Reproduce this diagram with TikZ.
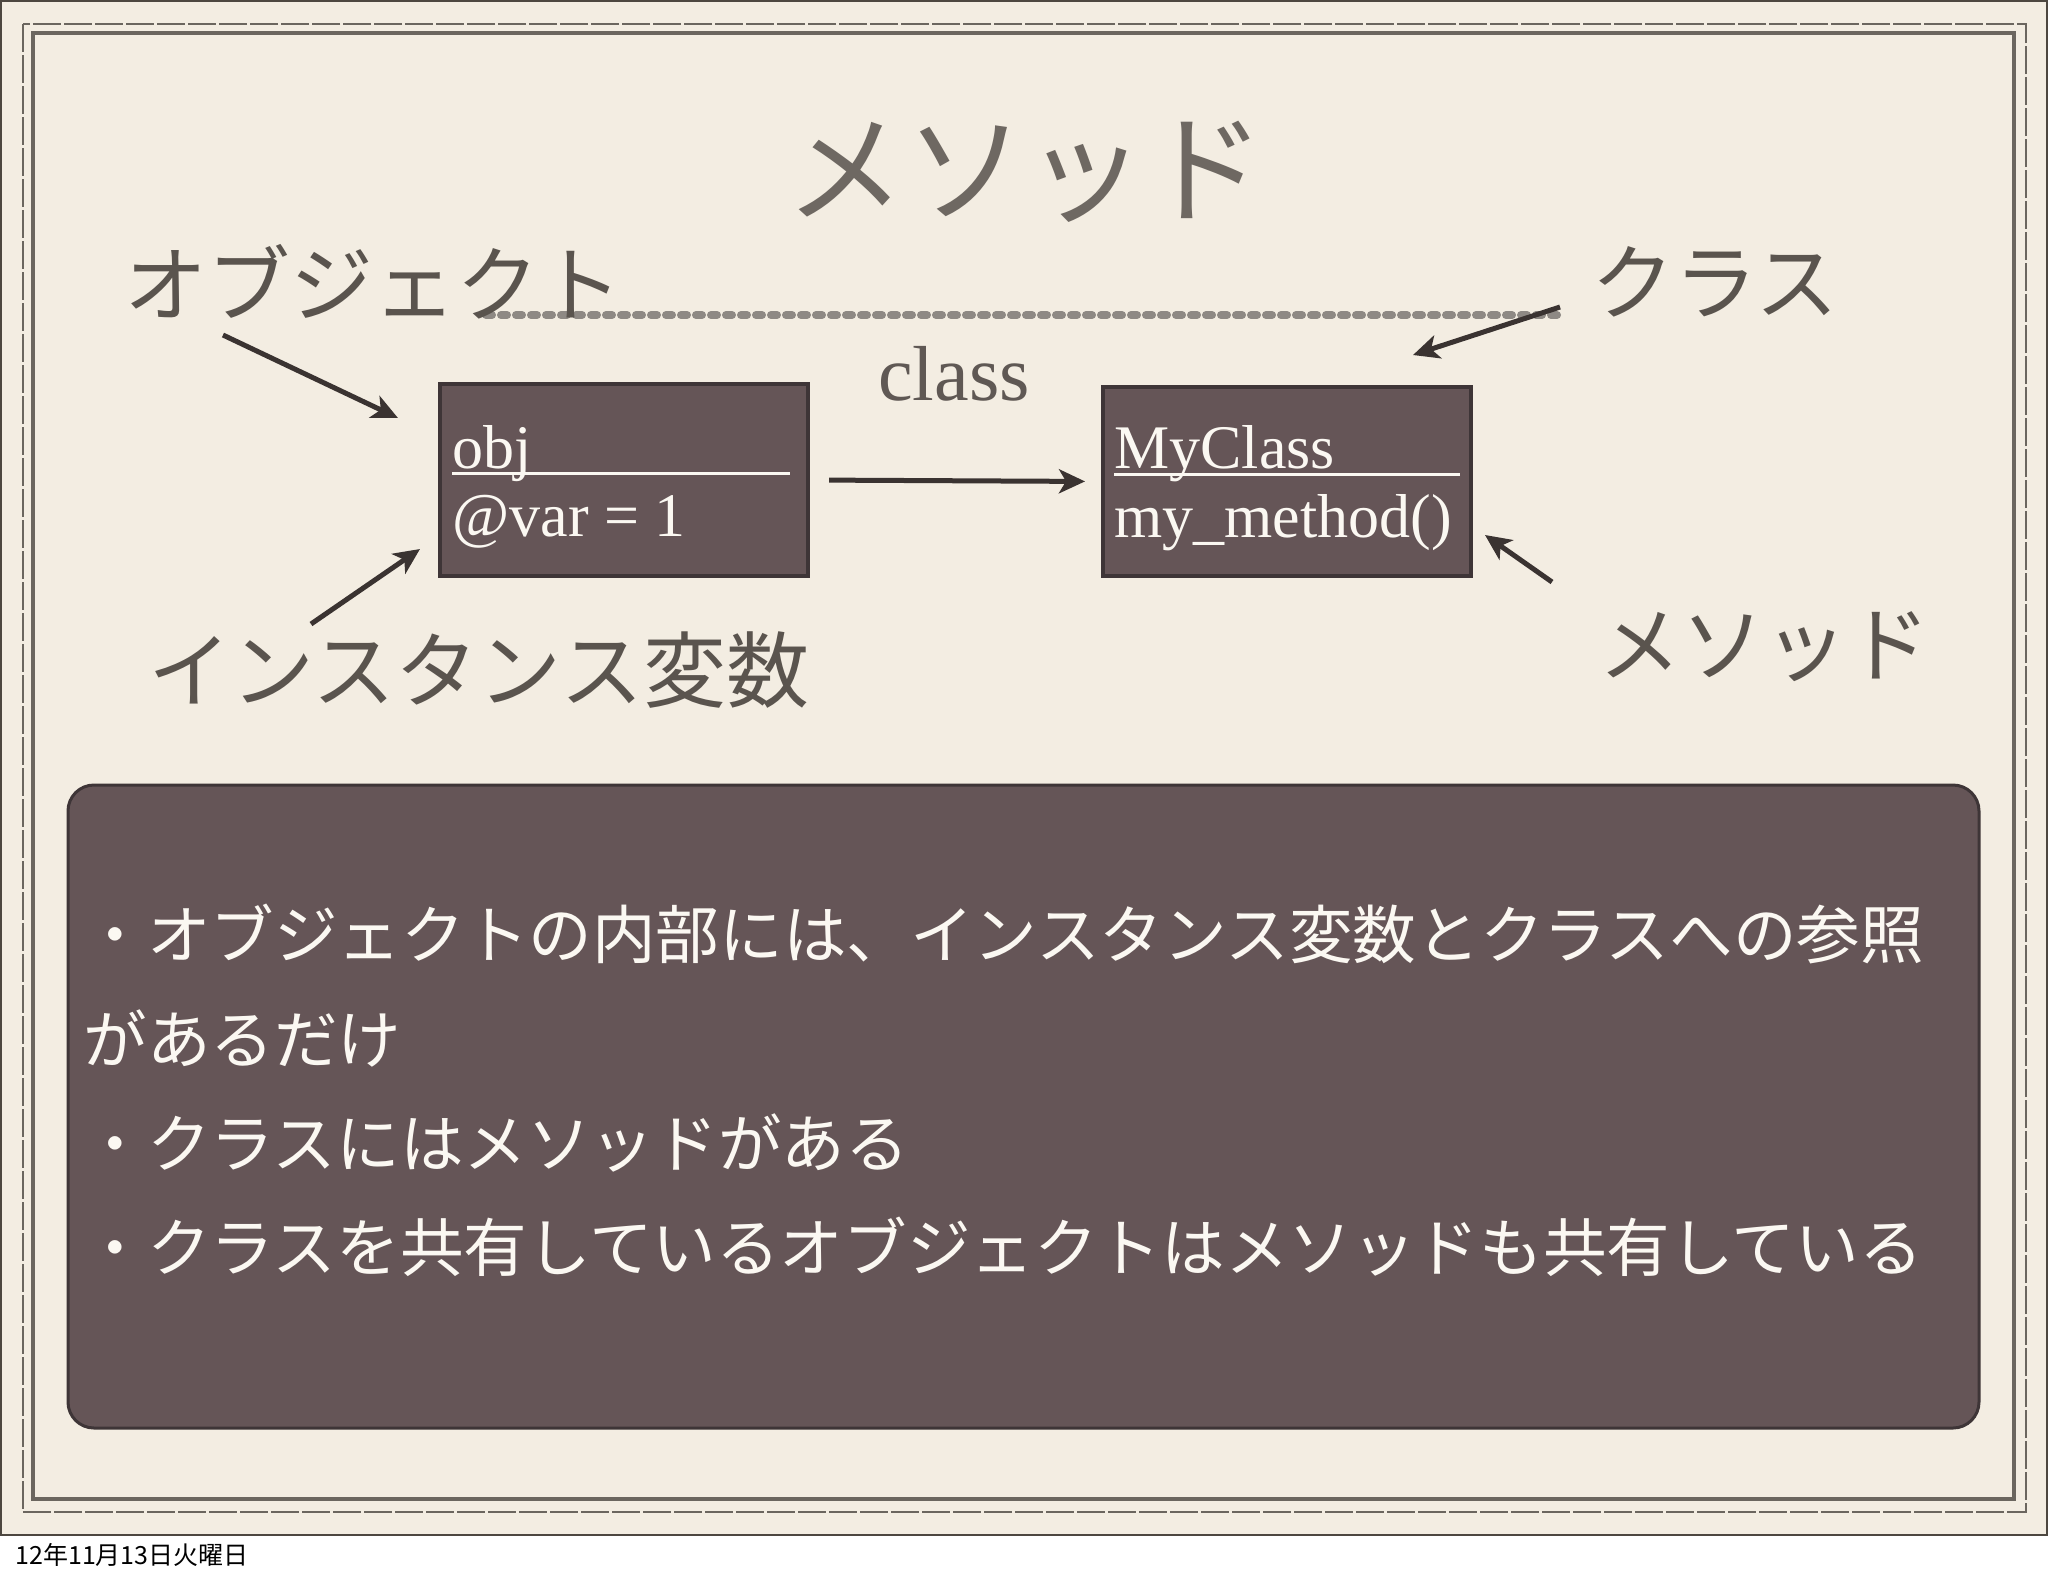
\documentclass[tikz,border=0pt]{standalone}
\usepackage{fontspec}
\setmainfont{Liberation Serif}
\newfontfamily\jp{Noto Sans CJK JP}
\usetikzlibrary{arrows.meta}
\definecolor{paper}{HTML}{F3EDE2}
\definecolor{slideedge}{HTML}{4D4740}
\definecolor{framegray}{HTML}{6B665F}
\definecolor{boxfill}{HTML}{655557}
\definecolor{boxedge}{HTML}{3E3537}
\definecolor{ink}{HTML}{3A3331}
\definecolor{titlegray}{HTML}{6E6862}
\definecolor{labelgray}{HTML}{5A544E}
\definecolor{chaingray}{HTML}{8E8984}
\definecolor{cream}{HTML}{FBF8F2}
\begin{document}
\begin{tikzpicture}[x=0.5pt,y=-0.5pt,
  arr/.style={draw=ink, line width=2.5pt, -{Stealth[length=13pt,width=12pt,inset=3.5pt]}},
  umlbox/.style={draw=boxedge, line width=2pt, fill=boxfill, inner sep=0pt, minimum width=184pt},
  boxtext/.style={text=cream, inner sep=0pt, anchor=base west, font=\fontsize{31pt}{36pt}\selectfont},
  label/.style={text=labelgray, inner sep=0pt, font=\jp\fontsize{41.5pt}{48pt}\selectfont},
  bullet/.style={text=cream, inner sep=0pt, anchor=west, font=\jp\fontsize{31.8pt}{38pt}\selectfont},
  uline/.style={draw=cream, line width=1.5pt}
]
\useasboundingbox (0,0) rectangle (2048,1576);
\fill[white] (0,0) rectangle (2048,1576);
% slide
\draw[fill=paper, draw=slideedge, line width=1pt] (1,1) rectangle (2047,1535);
% double frame
\draw[framegray, line width=1.2pt, dash pattern=on 14pt off 1.5pt] (23,24) rectangle (2026,1512);
\draw[framegray, line width=2pt] (33,33) rectangle (2014,1499);

% title
\node[text=titlegray, inner sep=0pt, font=\jp\fontsize{60pt}{70pt}\selectfont] (title) at (1025,172) {メソッド};

% chain line
\draw[chaingray, line width=4pt, line cap=round, dash pattern=on 3pt off 4.5pt] (486,315) -- (1561,315);

% labels
\node[label, anchor=west] (lobj) at (124,282) {オブジェクト};
\node[label, anchor=west] (lcls) at (1591,282) {クラス};
\node[label, anchor=west] (livar) at (148,670) {インスタンス変数};
\node[label, anchor=west] (lmeth) at (1598,647) {メソッド};

% class label
\node[text=ink!80!paper, inner sep=0pt, anchor=base, font=\fontsize{39pt}{44pt}\selectfont] (classlbl) at (954,400) {class};

% boxes
\node[umlbox, minimum height=96pt] (obj) at (624,480) {};
\node[umlbox, minimum height=94.5pt] (cls) at (1287,481.5) {};

\node[boxtext] (objname) at (452,468) {obj};
\draw[uline] (452,473) -- (790,473);
\node[boxtext] (objvar) at (452,536) {@var = 1};

\node[boxtext] (clsname) at (1114,468) {MyClass};
\draw[uline] (1114,474) -- (1460,474);
\node[boxtext] (clsmeth) at (1114,537) {my\_method()};

% arrows
\coordinate (a1s) at (223,335);
\coordinate (a1e) at (398,418);
\coordinate (a2s) at (311,624);
\coordinate (a2e) at (420,549);
\coordinate (a3s) at (1560,307);
\coordinate (a3e) at (1413,355);
\coordinate (a4s) at (1552,582);
\coordinate (a4e) at (1485,535);
\draw[arr] (a1s) -- (a1e);
\draw[arr] (a2s) -- (a2e);
\draw[arr] (a3s) -- (a3e);
\draw[arr] (a4s) -- (a4e);
\draw[arr, shorten <=9.5pt, shorten >=8pt] (obj.east) -- (cls.west);

% panel
\node[draw=boxedge, line width=1.5pt, fill=boxfill, rounded corners=13pt,
      minimum width=955.5pt, minimum height=321.5pt, inner sep=0pt] (panel) at (1023.5,1106.5) {};
\node[bullet] (b1) at (83,934) {・オブジェクトの内部には、インスタンス変数とクラスへの参照};
\node[bullet] (b1b) at (83,1038) {があるだけ};
\node[bullet] (b2) at (83,1143) {・クラスにはメソッドがある};
\node[bullet] (b3) at (83,1247) {・クラスを共有しているオブジェクトはメソッドも共有している};

% date
\node[text=black, inner sep=0pt, anchor=west, font=\jp\fontsize{12.5pt}{15pt}\selectfont] (date) at (15,1555) {12年11月13日火曜日};
\end{tikzpicture}
\end{document}
